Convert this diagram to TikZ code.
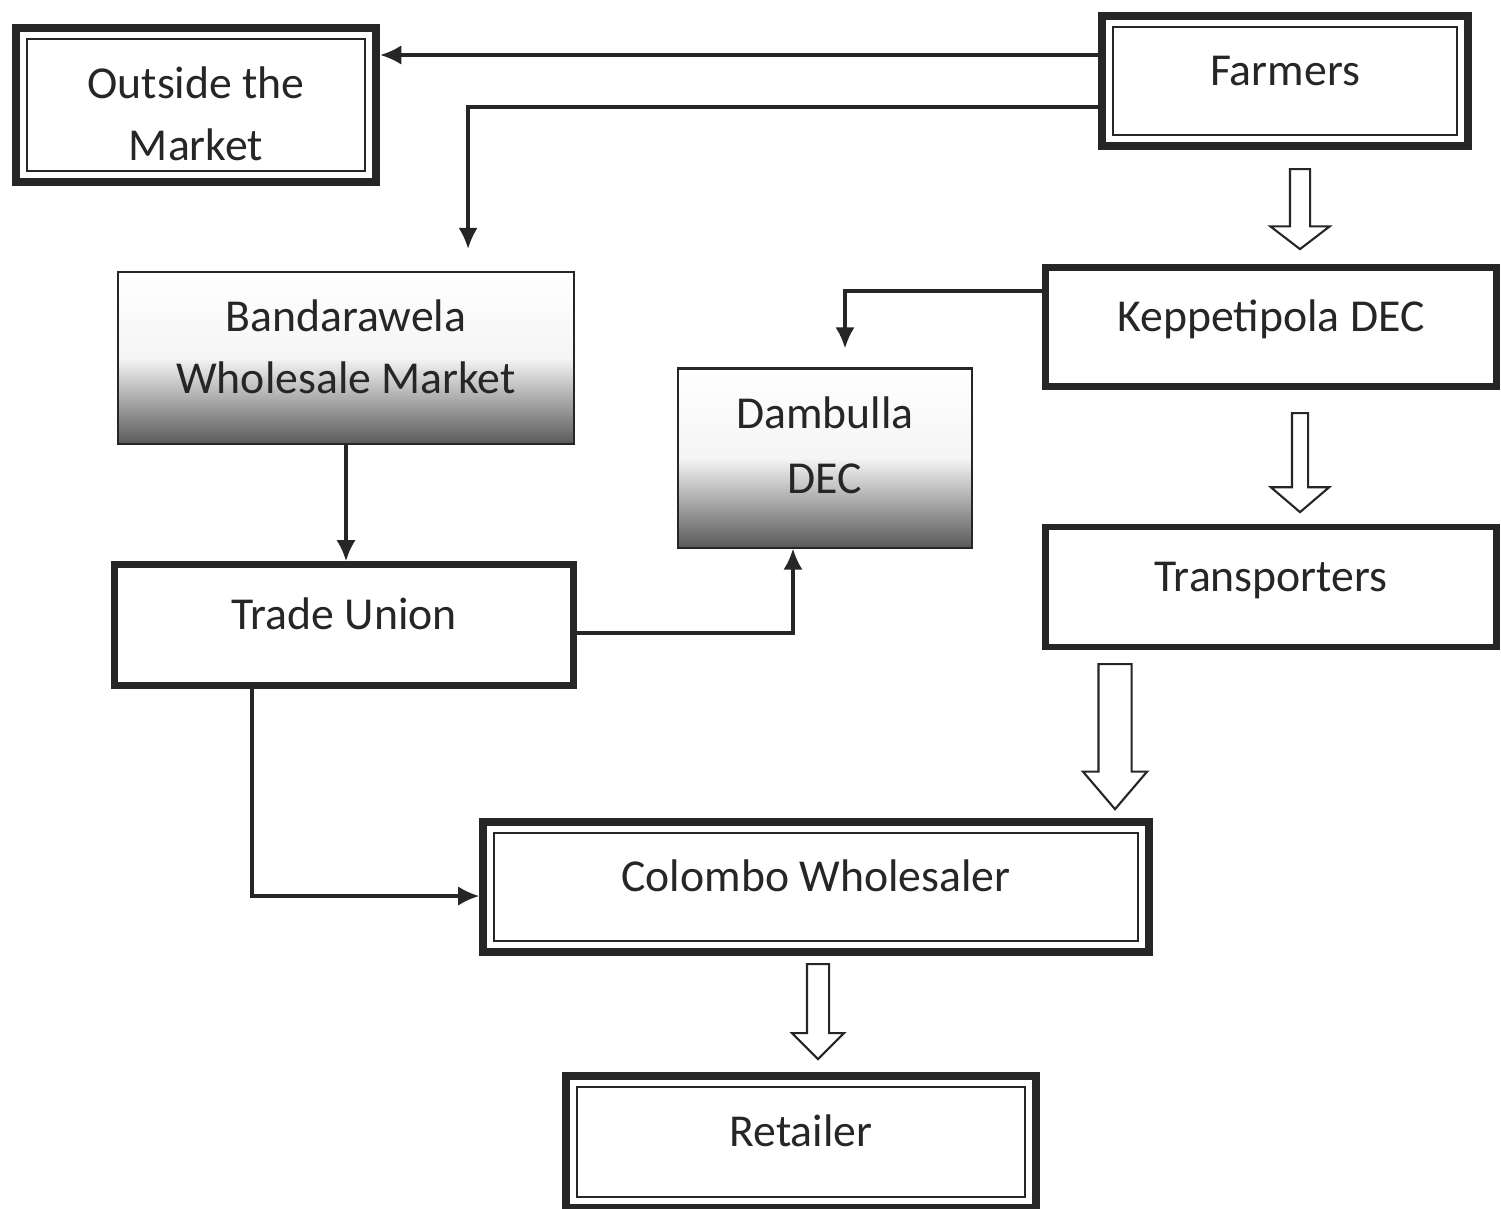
\documentclass[tikz,border=0pt]{standalone}
\usepackage{fontspec}
\setmainfont{Carlito}
\usetikzlibrary{arrows.meta,shapes.arrows}

\begin{document}
\begin{tikzpicture}[x=0.01cm,y=-0.01cm,>={Latex[length=6pt,width=5.5pt]},
    every node/.style={font=\fontsize{13}{17.5}\selectfont,text=black!85},
    box/.style={rectangle,draw=black!85},
    one line/.style={text height=9pt,text depth=6.3pt},
    thick box/.style={box,line width=1.9pt},
    double box/.style={box,line width=2.3pt},
    shaded box/.style={box,line width=0.6pt,path picture={
        \shade[top color=white,bottom color=black!65,middle color=black!4]
          (path picture bounding box.north west) rectangle (path picture bounding box.south east);}},
    link/.style={->,draw=black!85,line width=0.9pt},
    flow/.style={single arrow,draw=black!85,fill=white,line width=0.6pt,
                 shape border rotate=270,anchor=tail}]

  \path[use as bounding box,fill=white] (0,0) rectangle (1501,1208);

  % market side
  \node[double box,minimum width=3.6cm,minimum height=1.54cm,
        label={[yshift=-0.09cm,align=center]center:Outside the\\Market}] (out) at (196,105) {};
  \node[shaded box,minimum width=4.55cm,minimum height=1.72cm,
        label={[yshift=0.11cm,align=center]center:Bandarawela\\Wholesale Market}] (bwm) at (346,358) {};
  \node[shaded box,minimum width=2.94cm,minimum height=1.79cm,
        label={[yshift=0.13cm,align=center,font=\fontsize{13}{18.5}\selectfont]center:Dambulla\\DEC}] (dam) at (825,458) {};
  \node[thick box,one line,minimum width=4.59cm,minimum height=1.21cm] (tu) at (344,625) {Trade Union};

  % farm side
  \node[double box,one line,minimum width=3.66cm,minimum height=1.3cm] (farm) at (1285,81) {Farmers};
  \node[thick box,one line,minimum width=4.51cm,minimum height=1.19cm] (kep) at (1271,327) {Keppetipola DEC};
  \node[thick box,one line,minimum width=4.51cm,minimum height=1.2cm] (trans) at (1271,587) {Transporters};

  % colombo
  \node[double box,one line,minimum width=6.65cm,minimum height=1.3cm] (cw) at (816,887) {Colombo Wholesaler};
  \node[double box,one line,minimum width=4.69cm,minimum height=1.32cm] (ret) at (801,1142) {Retailer};

  \foreach \n in {out,farm,cw,ret}
    \draw[black!85,line width=0.6pt] ([shift={(15,15)}]\n.north west) rectangle ([shift={(-15,-15)}]\n.south east);

  % hollow arrows
  \node[flow,minimum height=0.8cm,inner sep=0.09cm,single arrow head extend=0.195cm,single arrow tip angle=105] (fa1) at (1300,168) {};
  \node[flow,minimum height=0.99cm,inner sep=0.07cm,single arrow head extend=0.21cm,single arrow tip angle=99] (fa2) at (1300,412) {};
  \node[flow,minimum height=1.45cm,inner sep=0.155cm,single arrow head extend=0.155cm,single arrow tip angle=81] (fa3) at (1115,663) {};
  \node[flow,minimum height=0.95cm,inner sep=0.1cm,single arrow head extend=0.15cm,single arrow tip angle=90] (fa4) at (818,963) {};

  % links
  \draw[link] ([yshift=0.26cm]farm.west) -- ([yshift=0.26cm]farm.west -| out.east);
  \draw[link] ([yshift=-0.26cm]farm.west) -| ([xshift=1.22cm,yshift=0.22cm]bwm.north);
  \draw[link] ([yshift=0.36cm]kep.west) -| ([xshift=0.2cm,yshift=0.19cm]dam.north);
  \draw[link] (bwm.south) -- (bwm.south |- tu.north);
  \draw[link] ([yshift=-0.08cm]tu.east) -| ([xshift=-0.32cm]dam.south);
  \draw[link] ([xshift=-0.92cm]tu.south) |- ([yshift=-0.09cm]cw.west);

\end{tikzpicture}
\end{document}
